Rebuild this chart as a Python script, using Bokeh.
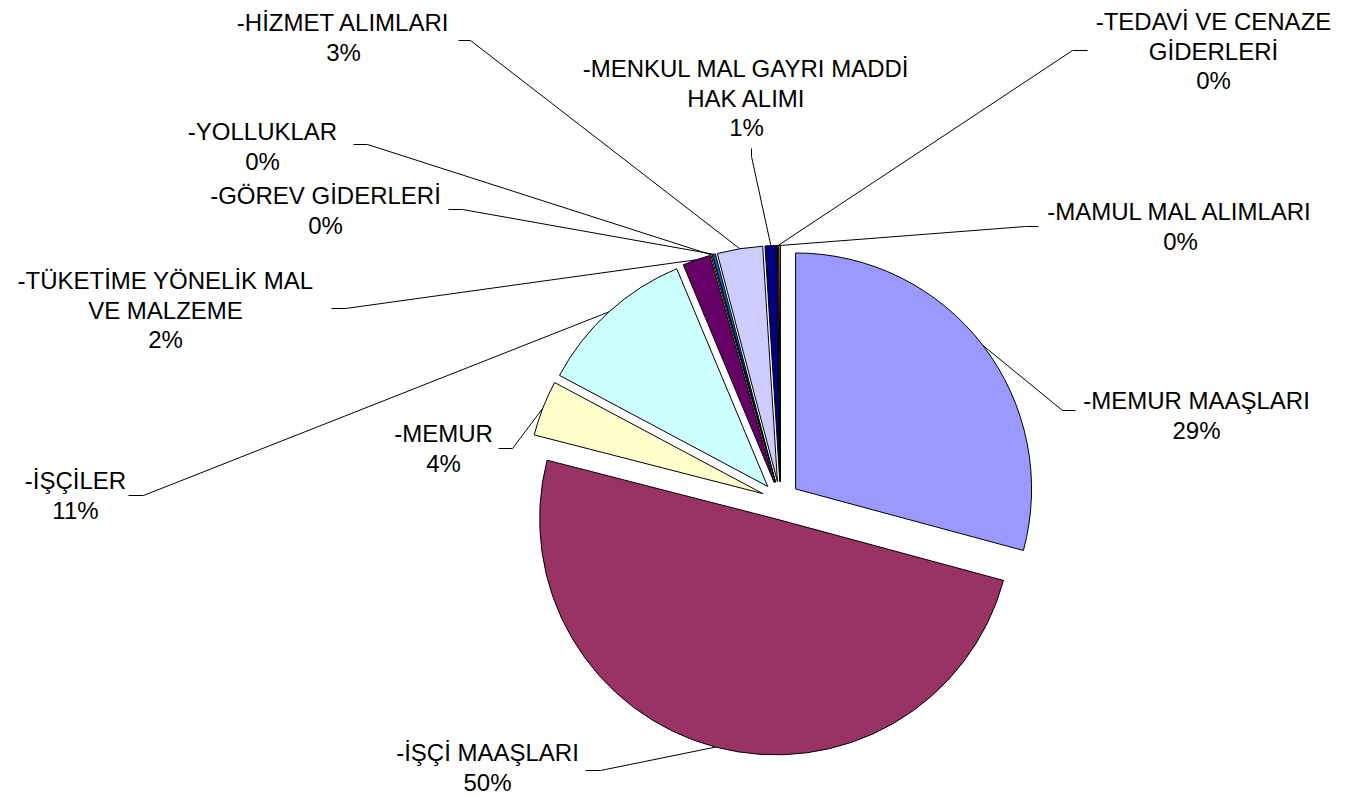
import math
from bokeh.plotting import figure
from bokeh.models import Range1d, ColumnDataSource
from bokeh.core.properties import value
from bokeh.embed import file_html
from bokeh.resources import INLINE

# ---- data ----
categories = [
    "-MEMUR MAAŞLARI", "-İŞÇİ MAAŞLARI", "-MEMUR", "-İŞÇİLER",
    "-TÜKETİME YÖNELİK MAL VE MALZEME", "-YOLLUKLAR", "-GÖREV GİDERLERİ",
    "-HİZMET ALIMLARI", "-MENKUL MAL GAYRI MADDİ HAK ALIMI",
    "-TEDAVİ VE CENAZE GİDERLERİ", "-MAMUL MAL ALIMLARI",
]
label_lines = [
    ["-MEMUR MAAŞLARI"], ["-İŞÇİ MAAŞLARI"], ["-MEMUR"], ["-İŞÇİLER"],
    ["-TÜKETİME YÖNELİK MAL", "VE MALZEME"], ["-YOLLUKLAR"], ["-GÖREV GİDERLERİ"],
    ["-HİZMET ALIMLARI"], ["-MENKUL MAL GAYRI MADDİ", "HAK ALIMI"],
    ["-TEDAVİ VE CENAZE", "GİDERLERİ"], ["-MAMUL MAL ALIMLARI"],
]
values = [29.2, 49.8, 3.8, 10.9, 1.9, 0.1, 0.2, 3.1, 0.8, 0.1, 0.1]
colors = ["#9999FF", "#993366", "#FFFFCC", "#CCFFFF", "#660066", "#FF8080",
          "#0066CC", "#CCCCFF", "#000080", "#FF00FF", "#FFFF00"]

# ---- layout (page pixel coordinates) ----
CX, CY, R, EXPLODE = 780, 500, 236, 19
LINE_SP = 29.5
label_pos = [(1196, 400), (487, 752), (443, 433), (75, 480), (165, 280),
             (262, 131), (325, 195), (343, 22), (746, 68), (1213, 21), (1180, 211)]
stubs = [((1075, 410), (1062, 410)), ((585, 770), (600, 770)),
         ((498, 448), (512, 448)), ((128, 495), (143, 495)),
         ((331, 308), (345, 308)), ((353, 144), (367, 144)),
         ((448, 209), (462, 209)), ((458, 40), (470, 40)),
         ((751, 148), (751, 156)), ((1087, 50), (1072, 50)),
         ((1038, 226), (1025, 226))]

W, H = 1358, 798
p = figure(width=W, height=H, output_backend="svg", toolbar_location=None,
           x_range=Range1d(0, W), y_range=Range1d(-H, 0),
           min_border=0, outline_line_color=None)
p.axis.visible = False
p.grid.visible = False
p.background_fill_color = "white"
p.border_fill_color = "white"

total = sum(values)
cum = 0.0
xs, ys, st, en, leader_x, leader_y = [], [], [], [], [], []
for i, v in enumerate(values):
    a0 = cum / total * 360.0
    a1 = (cum + v) / total * 360.0
    cum += v
    am = math.radians((a0 + a1) / 2)
    ox = CX + EXPLODE * math.sin(am)
    oy = -CY + EXPLODE * math.cos(am)
    xs.append(ox)
    ys.append(oy)
    st.append(math.radians(90 - a1))
    en.append(math.radians(90 - a0))
    ex = ox + R * math.sin(am)
    ey = oy + R * math.cos(am)
    (sx, sy), (tx, ty) = stubs[i]
    leader_x.append([sx, tx, ex])
    leader_y.append([-sy, -ty, ey])

src = ColumnDataSource(dict(x=xs, y=ys, start=st, end=en, color=colors))
p.multi_line(leader_x, leader_y, line_color="black", line_width=1)
p.wedge(x="x", y="y", radius=R, start_angle="start", end_angle="end",
        fill_color="color", line_color="black", line_width=1, source=src)

tx_, ty_, tt_ = [], [], []
for i, v in enumerate(values):
    lines = label_lines[i] + [f"{round(v / total * 100):.0f}%"]
    lx, ly = label_pos[i]
    for k, s in enumerate(lines):
        tx_.append(lx)
        ty_.append(-(ly + k * LINE_SP))
        tt_.append(s)
p.text(x=tx_, y=ty_, text=tt_, text_align="center", text_baseline="middle",
       text_font=value("Liberation Sans"), text_font_size="24px", text_color="black")

open("out.html", "w").write(file_html(p, INLINE))
